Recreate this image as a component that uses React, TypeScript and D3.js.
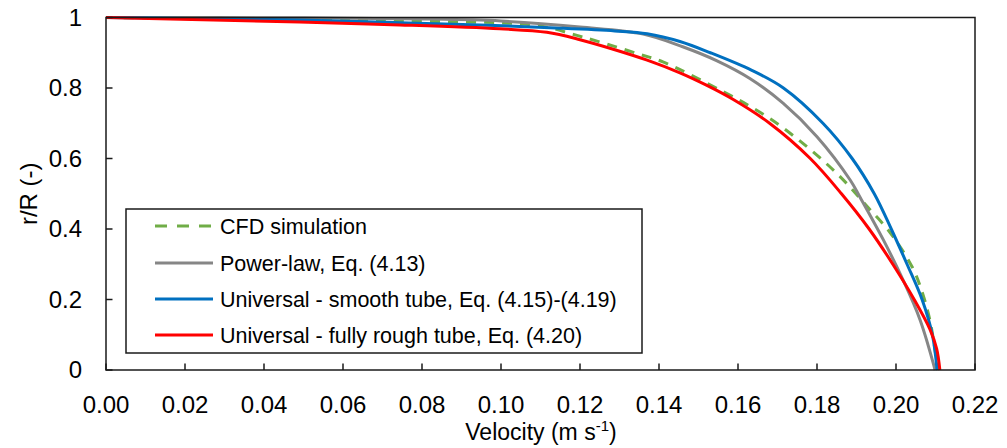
import React from "react";
import * as d3 from "d3";

// ---- data: [velocity (m/s), r/R] ----
const cfdSimulation: [number, number][] = [
  [0, 1], [0.049, 0.994], [0.0744, 0.99], [0.0997, 0.985], [0.107, 0.98], [0.1124, 0.971],
  [0.118, 0.953], [0.1243, 0.933], [0.135, 0.896], [0.141, 0.874], [0.1562, 0.79],
  [0.1673, 0.719], [0.1775, 0.633], [0.1859, 0.548], [0.1926, 0.465], [0.1985, 0.39],
  [0.2042, 0.29], [0.2068, 0.215], [0.2086, 0.14], [0.2097, 0.07], [0.2106, 0],
];
const powerLaw: [number, number][] = [
  [0, 1], [0.05, 0.999], [0.08, 0.996], [0.1, 0.99], [0.12, 0.973], [0.136, 0.953],
  [0.146, 0.917], [0.1547, 0.877], [0.163, 0.827], [0.1714, 0.757], [0.18, 0.662],
  [0.1884, 0.539], [0.1909, 0.49], [0.1968, 0.369], [0.2018, 0.255], [0.2061, 0.142],
  [0.2099, 0],
];
const universalSmooth: [number, number][] = [
  [0, 1], [0.049, 0.993], [0.0744, 0.985], [0.0947, 0.979], [0.1124, 0.971], [0.1288, 0.962],
  [0.137, 0.954], [0.1453, 0.932], [0.153, 0.9], [0.1635, 0.85], [0.1715, 0.8],
  [0.1815, 0.7], [0.1889, 0.6], [0.1945, 0.5], [0.1988, 0.4], [0.2028, 0.3],
  [0.2066, 0.2], [0.2092, 0.1], [0.2104, 0],
];
const universalRough: [number, number][] = [
  [0, 1], [0.049, 0.987], [0.0744, 0.979], [0.0997, 0.968], [0.1116, 0.958], [0.12, 0.937],
  [0.1284, 0.91], [0.137, 0.879], [0.1453, 0.843], [0.152, 0.808], [0.1587, 0.768],
  [0.168, 0.7], [0.1783, 0.6], [0.1862, 0.5], [0.1932, 0.4], [0.1992, 0.3],
  [0.2046, 0.2], [0.2086, 0.115], [0.2103, 0.06], [0.2111, 0],
];

const seriesNames = [
  "CFD simulation",
  "Power-law, Eq. (4.13)",
  "Universal - smooth tube, Eq. (4.15)-(4.19)",
  "Universal - fully rough tube, Eq. (4.20)",
];
const seriesColors = ["#70AD47", "#868686", "#0070C0", "#FF0000"];
const seriesDash = ["10,8", null, null, null];

const xTicks = [0, 0.02, 0.04, 0.06, 0.08, 0.1, 0.12, 0.14, 0.16, 0.18, 0.2, 0.22];
const yTicks = [0, 0.2, 0.4, 0.6, 0.8, 1];
const yTickLabels = ["0", "0.2", "0.4", "0.6", "0.8", "1"];

const W = 1007, H = 448;
const M = { left: 106, right: 975, top: 17.5, bottom: 370 };
const FONT = "'Liberation Sans', Arial, sans-serif";

export default function App() {
  const x = d3.scaleLinear().domain([0, 0.22]).range([M.left, M.right]);
  const y = d3.scaleLinear().domain([0, 1]).range([M.bottom, M.top]);
  const line = d3
    .line<[number, number]>()
    .x((d) => x(d[0]))
    .y((d) => y(d[1]))
    .curve(d3.curveCatmullRom.alpha(0.5));
  const allSeries = [cfdSimulation, powerLaw, universalSmooth, universalRough];

  const legend = { x0: 126, y0: 209, x1: 642, y1: 353 };
  const legendRows = [226, 263, 299, 335];

  return (
    <svg width={W} height={H} style={{ position: "absolute", left: 0, top: 0, background: "#fff" }}>
      <rect x={0} y={0} width={W} height={H} fill="#fff" />
      {allSeries.map((s, i) => (
        <path
          key={i}
          d={line(s) || ""}
          fill="none"
          stroke={seriesColors[i]}
          strokeWidth={3}
          strokeDasharray={seriesDash[i] || undefined}
          strokeLinejoin="round"
        />
      ))}
      <rect
        x={M.left}
        y={M.top}
        width={M.right - M.left}
        height={M.bottom - M.top}
        fill="none"
        stroke="#1a1a1a"
        strokeWidth={1.5}
      />
      {xTicks.map((t, i) => (
        <g key={"x" + i}>
          <line x1={x(t)} x2={x(t)} y1={M.bottom} y2={M.bottom - 6.5} stroke="#1a1a1a" strokeWidth={1.5} />
          <text x={x(t)} y={413} textAnchor="middle" fontFamily={FONT} fontSize={24} fill="#000">
            {t.toFixed(2)}
          </text>
        </g>
      ))}
      {yTicks.map((t, i) => (
        <g key={"y" + i}>
          <line x1={M.left} x2={M.left + 6.5} y1={y(t)} y2={y(t)} stroke="#1a1a1a" strokeWidth={1.5} />
          <text x={82} y={y(t)} dy="0.35em" textAnchor="end" fontFamily={FONT} fontSize={24} fill="#000">
            {yTickLabels[i]}
          </text>
        </g>
      ))}
      <text x={541} y={440} textAnchor="middle" fontFamily={FONT} fontSize={23} fill="#000">
        Velocity (m s
        <tspan dy={-9} fontSize={15}>-1</tspan>
        <tspan dy={9}>)</tspan>
      </text>
      <text
        transform={`translate(37, ${(M.top + M.bottom) / 2}) rotate(-90)`}
        textAnchor="middle"
        fontFamily={FONT}
        fontSize={24}
        fill="#000"
      >
        r/R (-)
      </text>
      <rect
        x={legend.x0}
        y={legend.y0}
        width={legend.x1 - legend.x0}
        height={legend.y1 - legend.y0}
        fill="#fff"
        stroke="#1a1a1a"
        strokeWidth={1.5}
      />
      {seriesNames.map((name, i) => (
        <g key={"l" + i}>
          <line
            x1={155}
            x2={213}
            y1={legendRows[i]}
            y2={legendRows[i]}
            stroke={seriesColors[i]}
            strokeWidth={3}
            strokeDasharray={seriesDash[i] ? "12,10" : undefined}
          />
          <text x={220} y={legendRows[i]} dy="0.35em" fontFamily={FONT} fontSize={21.5} fill="#000">
            {name}
          </text>
        </g>
      ))}
    </svg>
  );
}
